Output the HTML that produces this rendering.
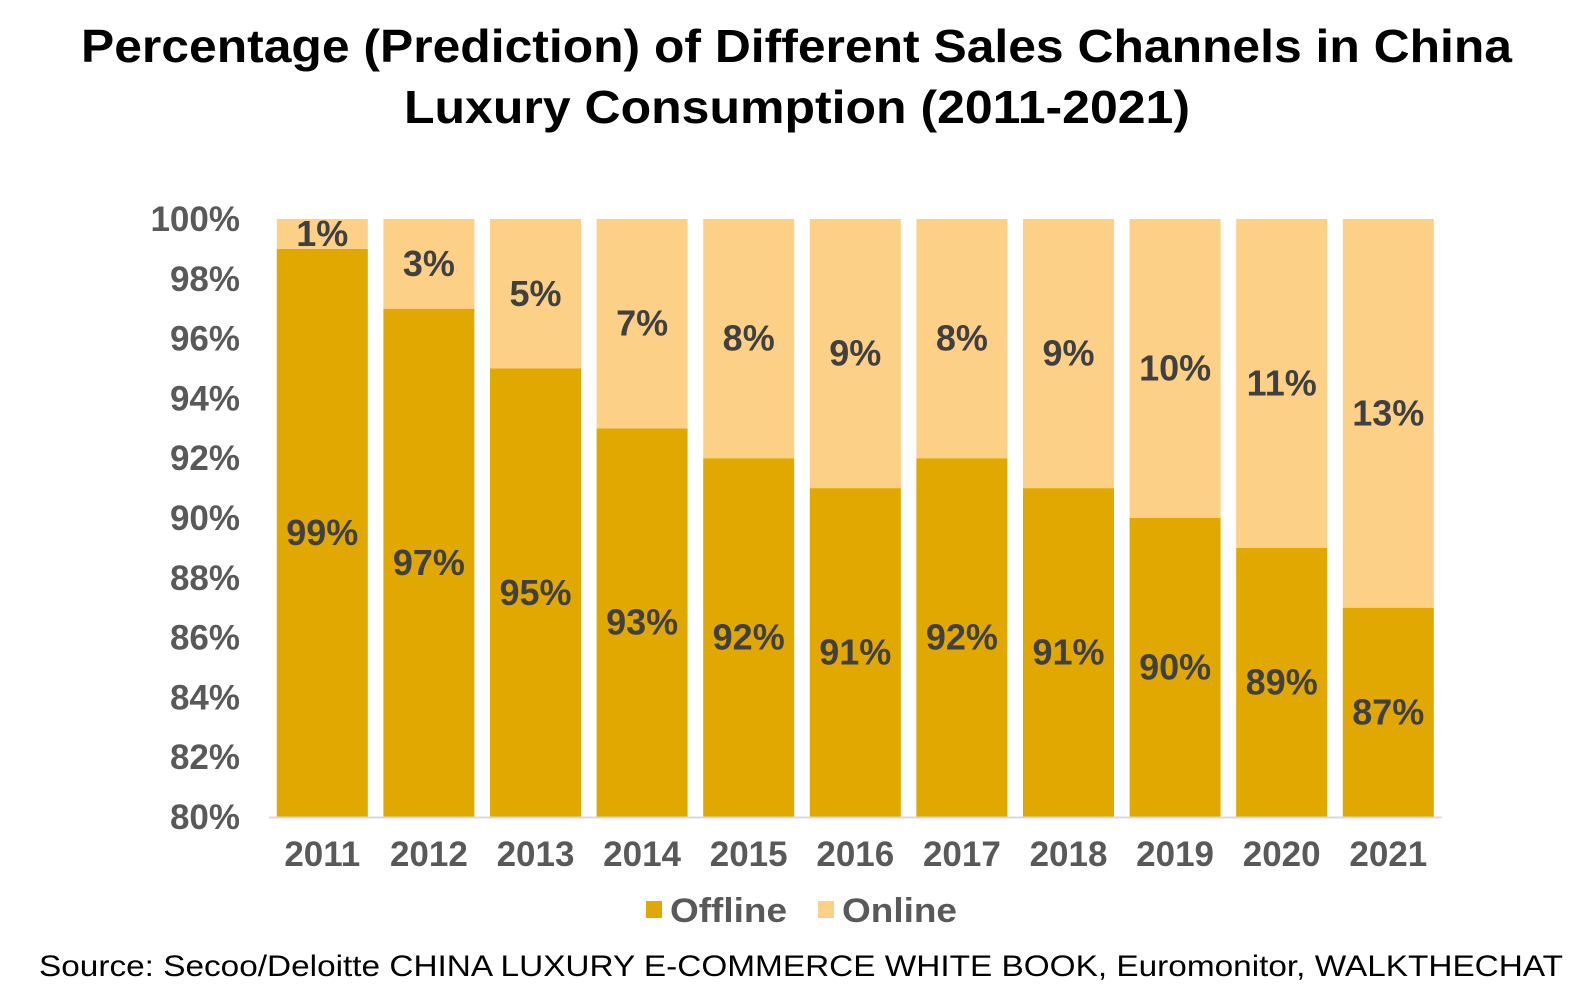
<!DOCTYPE html>
<html><head><meta charset="utf-8"><style>
body{margin:0;background:#fff;}
svg{display:block;font-family:"Liberation Sans",Arial,sans-serif;}
</style></head><body>
<svg id="chart" width="1593" height="1004" viewBox="0 0 1593 1004">
<text x="81" y="62" font-size="46" font-weight="bold" fill="#000" textLength="1431" lengthAdjust="spacingAndGlyphs">Percentage (Prediction) of Different Sales Channels in China</text>
<text x="404" y="123" font-size="46" font-weight="bold" fill="#000" textLength="786" lengthAdjust="spacingAndGlyphs">Luxury Consumption (2011-2021)</text>
<g id="plot"></g>
<g>
<rect x="646" y="901" width="16" height="17" fill="#E0A800"/>
<text x="670" y="922" font-size="34" font-weight="bold" fill="#595959" textLength="117" lengthAdjust="spacingAndGlyphs">Offline</text>
<rect x="818" y="901" width="16" height="17" fill="#FDD088"/>
<text x="842" y="922" font-size="34" font-weight="bold" fill="#595959" textLength="115" lengthAdjust="spacingAndGlyphs">Online</text>
</g>
<text x="39" y="976" font-size="30" fill="#000" textLength="1524" lengthAdjust="spacingAndGlyphs">Source: Secoo/Deloitte  CHINA LUXURY E-COMMERCE WHITE BOOK, Euromonitor,  WALKTHECHAT</text>
</svg>
<script>
const categories = ["2011","2012","2013","2014","2015","2016","2017","2018","2019","2020","2021"];
const offline = [99,97,95,93,92,91,92,91,90,89,87];
const online = [1,3,5,7,8,9,8,9,10,11,13];
const yTicks = [80,82,84,86,88,90,92,94,96,98,100];

const NS = "http://www.w3.org/2000/svg";
const plot = document.getElementById("plot");
const yMin = 80, yMax = 100, yTop = 219, yBottom = 817;
const left = 269, bandW = 106.6, barW = 91;
function y(v){ return yBottom - (v - yMin) / (yMax - yMin) * (yBottom - yTop); }
function x(i){ return left + i * bandW + (bandW - barW) / 2; }
function mk(tag, attrs){ const e = document.createElementNS(NS, tag); for (const k in attrs) e.setAttribute(k, attrs[k]); plot.appendChild(e); return e; }

yTicks.forEach(t => {
  const e = mk("text", {x: 240, y: y(t) + 12, "font-size": 35, "font-weight": "bold", fill: "#595959", "text-anchor": "end"});
  
  
  e.textContent = t + "%";
});

categories.forEach((c, i) => {
  const xo = x(i), cx = xo + barW / 2;
  const offTop = y(Math.max(offline[i], yMin));
  const r1 = mk("rect", {x: xo, y: offTop, width: barW, height: yBottom - offTop, fill: "#E0A800"});
  
  
  const onTop = y(Math.min(offline[i] + online[i], yMax));
  const r2 = mk("rect", {x: xo, y: onTop, width: barW, height: offTop - onTop, fill: "#FDD088"});
  
  
  const l1 = mk("text", {x: cx, y: (offTop + yBottom) / 2 + 12, "font-size": 36, "font-weight": "bold", fill: "#404040", "text-anchor": "middle"});
  
  
  l1.textContent = offline[i] + "%";
  const l2 = mk("text", {x: cx, y: (onTop + offTop) / 2 + 12, "font-size": 36, "font-weight": "bold", fill: "#404040", "text-anchor": "middle"});
  
  
  l2.textContent = online[i] + "%";
  const xl = mk("text", {x: cx, y: 866, "font-size": 35, "font-weight": "bold", fill: "#595959", "text-anchor": "middle"});
  
  
  xl.textContent = c;
});
const ax = mk("line", {x1: left, x2: left + bandW * categories.length, y1: yBottom + 0.5, y2: yBottom + 0.5, stroke: "#D9D9D9", "stroke-width": 2});


</script>
</body></html>
